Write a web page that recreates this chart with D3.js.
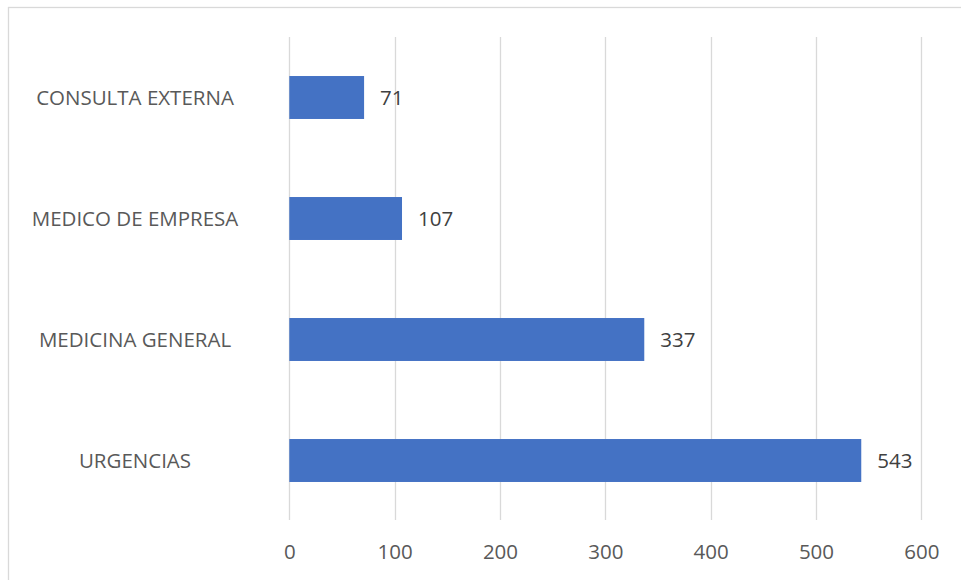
<!DOCTYPE html>
<html><head><meta charset="utf-8">
<script src="https://cdn.jsdelivr.net/npm/d3@7"></script>
<style>body{margin:0;background:#fff}svg{display:block}</style>
</head><body>
<svg id="c" width="961" height="580"></svg>
<script>
const categories = ["CONSULTA EXTERNA","MEDICO DE EMPRESA","MEDICINA GENERAL","URGENCIAS"];
const values = [71,107,337,543];
const ticks = [0,100,200,300,400,500,600];

const svg = d3.select("#c");
const font = "'Open Sans', sans-serif";
const fs = 20.5;
const x = d3.scaleLinear().domain([0,600]).range([289.3,921.3]);
const y = d3.scaleBand().domain(categories).range([37,521]).paddingInner(0.645).paddingOuter(0.3225);

// border
svg.append("rect").attr("x",8.5).attr("y",7.5).attr("width",1000).attr("height",1000)
  .attr("fill","none").attr("stroke","#d9d9d9").attr("stroke-width",1.3);

// gridlines
svg.append("g").selectAll("line").data(ticks).join("line")
  .attr("x1",d=>Math.round(x(d))+0.5).attr("x2",d=>Math.round(x(d))+0.5)
  .attr("y1",37).attr("y2",520).attr("stroke","#d9d9d9").attr("stroke-width",1.3);

// x axis tick labels
const ax = d3.axisBottom(x).tickValues(ticks).tickSize(0).tickPadding(0);
const g = svg.append("g").attr("transform","translate(0,552)").call(ax);
g.select(".domain").remove();
g.selectAll("text").attr("font-family",font).attr("font-size",fs).attr("fill","#595959").attr("dy","0.35em");

// bars
svg.append("g").selectAll("rect").data(categories).join("rect")
  .attr("x",x(0)).attr("y",d=>y(d)).attr("height",y.bandwidth())
  .attr("width",(d,i)=>x(values[i])-x(0)).attr("fill","#4472C4");

// value labels
svg.append("g").selectAll("text").data(categories).join("text")
  .attr("x",(d,i)=>x(values[i])+16).attr("y",d=>y(d)+y.bandwidth()/2).attr("dy","0.35em")
  .attr("font-family",font).attr("font-size",fs).attr("fill","#404040")
  .text((d,i)=>values[i]);

// category labels
svg.append("g").selectAll("text").data(categories).join("text")
  .attr("x",135).attr("y",d=>y(d)+y.bandwidth()/2).attr("dy","0.35em")
  .attr("text-anchor","middle")
  .attr("font-family",font).attr("font-size",fs).attr("fill","#595959")
  .text(d=>d);
</script>
</body></html>
